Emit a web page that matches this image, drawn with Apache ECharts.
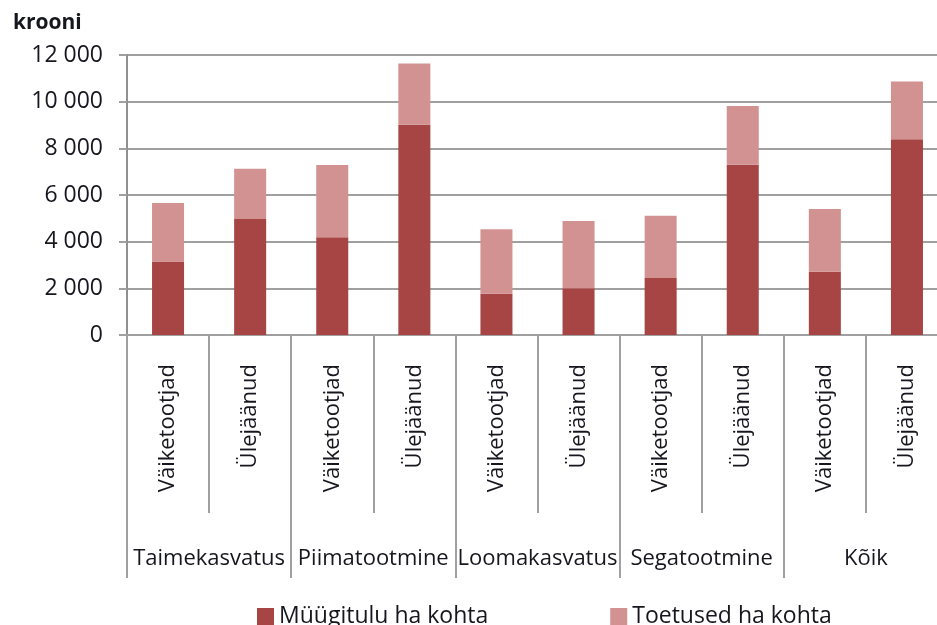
<!DOCTYPE html>
<html>
<head>
<meta charset="utf-8">
<script src="https://cdn.jsdelivr.net/npm/echarts@6/dist/echarts.min.js"></script>
<style>
  html, body { margin: 0; padding: 0; background: #fff; }
  #chart { width: 937px; height: 625px; }
</style>
</head>
<body>
<div id="chart"></div>
<script>
const subCategories = ['Väiketootjad', 'Ülejäänud', 'Väiketootjad', 'Ülejäänud', 'Väiketootjad', 'Ülejäänud', 'Väiketootjad', 'Ülejäänud', 'Väiketootjad', 'Ülejäänud']
const groups = ['Taimekasvatus', 'Piimatootmine', 'Loomakasvatus', 'Segatootmine', 'Kõik']
const seriesNames = ['Müügitulu ha kohta', 'Toetused ha kohta']
const myygitulu = [3150, 4970, 4190, 9010, 1770, 2000, 2440, 7300, 2710, 8390]
const toetused = [2510, 2150, 3100, 2630, 2760, 2890, 2670, 2510, 2690, 2470]
const yTicks = [0, 2000, 4000, 6000, 8000, 10000, 12000]

const font = '"Open Sans", "Liberation Sans", sans-serif'
const textColor = '#16161e'
const lineColor = '#a0a0a0'

const fmt = (v) => String(v).replace(/\B(?=(\d{3})+(?!\d))/g, ' ')

const chart = echarts.init(document.getElementById('chart'))

const option = {
    animation: false,
    textStyle: { fontFamily: font },
    title: {
        text: 'krooni',
        left: 8,
        top: 8,
        textStyle: { fontFamily: font, fontSize: 21, fontWeight: 'bold', color: textColor }
    },
    grid: {
        left: 127,
        width: 821,
        top: 55,
        bottom: 290,
        outerBoundsMode: 'none'
    },
    legend: {
        data: seriesNames,
        left: 252,
        top: 600,
        itemWidth: 17,
        itemHeight: 17,
        itemGap: 122,
        icon: 'rect',
        textStyle: { fontFamily: font, fontSize: 23, color: textColor }
    },
    xAxis: [
        {
            type: 'category',
            data: subCategories,
            position: 'bottom',
            axisLine: { show: true, lineStyle: { color: lineColor, width: 2 } },
            axisTick: { show: true, interval: 0, length: 178, lineStyle: { color: lineColor, width: 2 } },
            axisLabel: {
                interval: 0,
                rotate: 90,
                margin: 29,
                fontFamily: font,
                fontSize: 22,
                color: textColor
            }
        },
        {
            type: 'category',
            data: groups,
            position: 'bottom',
            axisLine: { show: false },
            axisTick: { show: true, interval: 0, length: 243, lineStyle: { color: lineColor, width: 2 } },
            axisLabel: {
                interval: 0,
                margin: 213,
                fontFamily: font,
                fontSize: 22,
                color: textColor
            }
        }
    ],
    yAxis: {
        type: 'value',
        min: yTicks[0],
        max: yTicks[yTicks.length - 1],
        interval: 2000,
        axisLine: { show: true, onZero: false, lineStyle: { color: '#909090', width: 2 } },
        axisTick: { show: true, length: 8, inside: false, lineStyle: { color: lineColor, width: 2 } },
        splitLine: { show: true, lineStyle: { color: lineColor, width: 2 } },
        axisLabel: {
            margin: 24,
            fontFamily: font,
            fontSize: 23,
            color: textColor,
            formatter: (v) => fmt(v)
        }
    },
    series: [
        {
            name: seriesNames[0],
            type: 'bar',
            stack: 'total',
            barWidth: '39%',
            data: myygitulu,
            itemStyle: { color: '#a64543' }
        },
        {
            name: seriesNames[1],
            type: 'bar',
            stack: 'total',
            barWidth: '39%',
            data: toetused,
            itemStyle: { color: '#d19291' }
        }
    ]
}

chart.setOption(option)
</script>
</body>
</html>
